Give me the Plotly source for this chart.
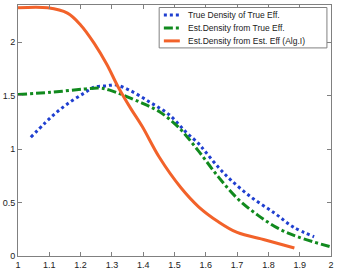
import plotly.graph_objects as go

# True Density of True Eff.
blue_x = [1.041, 1.085, 1.126, 1.167, 1.21, 1.246, 1.284, 1.31, 1.356, 1.42, 1.483, 1.536, 1.577, 1.60, 1.64, 1.68, 1.745, 1.82, 1.88, 1.946]
blue_y = [1.11, 1.24, 1.35, 1.44, 1.52, 1.58, 1.59, 1.60, 1.55, 1.44, 1.32, 1.16, 1.05, 0.97, 0.83, 0.71, 0.55, 0.40, 0.27, 0.18]

# Est. Density from True Eff.
green_x = [1.00, 1.104, 1.21, 1.26, 1.293, 1.388, 1.451, 1.514, 1.577, 1.64, 1.70, 1.767, 1.83, 1.893, 2.00]
green_y = [1.51, 1.53, 1.56, 1.57, 1.55, 1.44, 1.35, 1.20, 0.98, 0.74, 0.54, 0.38, 0.26, 0.18, 0.085]

# Est. Density from Est. Eff (Alg.I)
orange_x = [1.00, 1.095, 1.158, 1.20, 1.243, 1.284, 1.32, 1.36, 1.397, 1.451, 1.52, 1.577, 1.64, 1.70, 1.79, 1.883]
orange_y = [2.32, 2.32, 2.27, 2.16, 1.99, 1.79, 1.58, 1.38, 1.21, 0.925, 0.64, 0.46, 0.32, 0.22, 0.15, 0.075]

series_names = ["True Density of True Eff.", "Est.Density from True Eff.", "Est.Density from Est. Eff (Alg.I)"]

x_ticks = [1, 1.1, 1.2, 1.3, 1.4, 1.5, 1.6, 1.7, 1.8, 1.9, 2]
x_labels = ["1", "1.1", "1.2", "1.3", "1.4", "1.5", "1.6", "1.7", "1.8", "1.9", "2"]
y_ticks = [0, 0.5, 1, 1.5, 2]
y_labels = ["0", "0.5", "1", "1.5", "2"]

colors = ["#1f3fd0", "#118a1e", "#f2622a"]
dashes = ["dot", "dashdot", "solid"]

fig = go.Figure()
for xs, ys, name, c, d in zip([blue_x, green_x, orange_x], [blue_y, green_y, orange_y], series_names, colors, dashes):
    fig.add_trace(go.Scatter(x=xs, y=ys, mode="lines", name=name, showlegend=False,
                             line=dict(color=c, width=3, dash=d, shape="spline")))

axis_common = dict(showgrid=False, zeroline=False, showline=True, linecolor="#808080", linewidth=1,
                   mirror="ticks", ticks="inside", ticklen=4, tickcolor="#808080",
                   tickfont=dict(family="Liberation Sans, Arial", size=9, color="#222"))
fig.update_xaxes(range=[1, 2], tickvals=x_ticks, ticktext=x_labels, **axis_common)
fig.update_yaxes(range=[0, 2.346], tickvals=y_ticks, ticktext=y_labels, **axis_common)

# Custom compact legend (paper coordinates)
lx0, lx1, ly0, ly1 = 0.451, 0.987, 0.829, 0.990
row_y = [0.960, 0.908, 0.857]
shapes = [dict(type="rect", xref="paper", yref="paper", x0=lx0, x1=lx1, y0=ly0, y1=ly1,
               line=dict(color="#808080", width=1), fillcolor="white", layer="above")]
annotations = []
for ry, name, c, d in zip(row_y, series_names, colors, dashes):
    shapes.append(dict(type="line", xref="paper", yref="paper", x0=0.466, x1=0.517, y0=ry, y1=ry,
                       line=dict(color=c, width=3, dash=d), layer="above"))
    annotations.append(dict(xref="paper", yref="paper", x=0.536, y=ry, text=name, showarrow=False,
                            xanchor="left", yanchor="middle",
                            font=dict(family="Liberation Sans, Arial", size=8.5, color="#222")))

fig.update_layout(
    width=337, height=275,
    margin=dict(l=17, r=3, t=5, b=19),
    paper_bgcolor="white", plot_bgcolor="white",
    shapes=shapes, annotations=annotations,
    showlegend=False,
)
fig.write_html("out.html")
